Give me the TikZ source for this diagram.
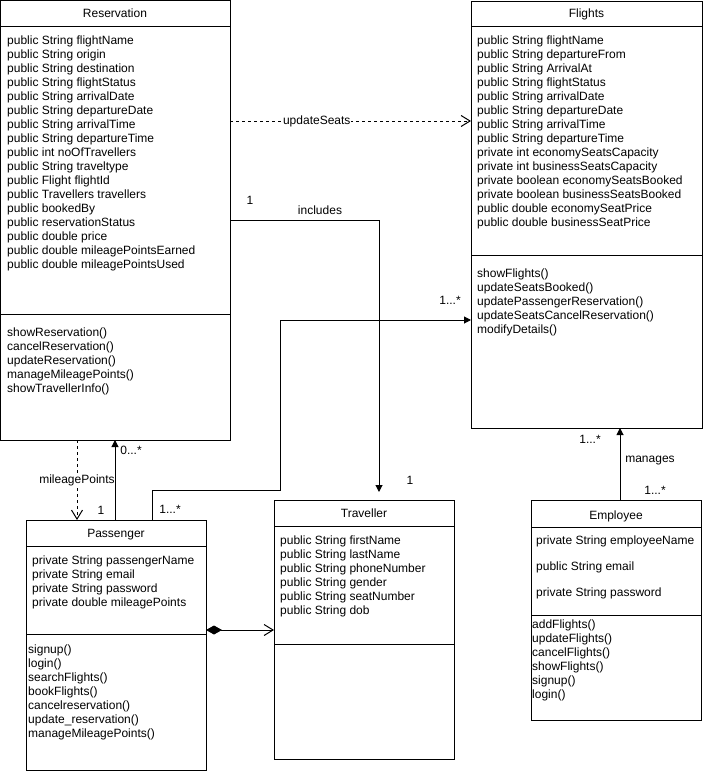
\documentclass[tikz,border=0pt]{standalone}
\usepackage{fontspec}
\setmainfont{Liberation Sans}
\usetikzlibrary{arrows.meta}
\begin{document}
\begin{tikzpicture}[x=1pt,y=-1pt,
  font=\fontsize{12}{14}\selectfont,
  classbox/.style={draw, line width=1pt, inner sep=0pt, outer sep=0pt, anchor=north west},
  member/.style={anchor=base west, inner sep=0pt},
  title/.style={anchor=base, inner sep=0pt},
  lbl/.style={inner sep=1pt},
  conn/.style={line width=1pt},
  dashline/.style={dash pattern=on 3pt off 3pt},
  solidtip/.style={-{Triangle[length=7pt,width=7pt]}},
  opentip/.style={-{Straight Barb[length=9pt,width=11pt]}},
  divider/.style={line width=1pt}]
\useasboundingbox (0,0) rectangle (711,771);

% ---------- Reservation ----------
\node[classbox, minimum width=229.5pt, minimum height=439.5pt] (res) at (0.5,0.5) {};
\draw[divider] (0.5,26) -- (230,26) (0.5,314) -- (230,314);
\node[title] (res-t) at (115,17.5) {Reservation};
\foreach \t [count=\i from 0] in {public String flightName, public String origin,
  public String destination, public String flightStatus, public String arrivalDate,
  public String departureDate, public String arrivalTime, public String departureTime,
  public int noOfTravellers, public String traveltype, public Flight flightId,
  public Travellers travellers, public bookedBy, public reservationStatus,
  public double price, public double mileagePointsEarned, public double mileagePointsUsed}
  \node[member] (res-a\i) at (7,44.5+14*\i) {\t};
\foreach \t [count=\i from 0] in {showReservation(), cancelReservation(),
  updateReservation(), manageMileagePoints(), showTravellerInfo()}
  \node[member] (res-m\i) at (7,336.5+14*\i) {\t};

% ---------- Flights ----------
\node[classbox, minimum width=231pt, minimum height=427pt] (fl) at (471,1) {};
\draw[divider] (471,26) -- (702,26) (471,255) -- (702,255);
\node[title] (fl-t) at (586.5,17.5) {Flights};
\foreach \t [count=\i from 0] in {public String flightName, public String departureFrom,
  public String ArrivalAt, public String flightStatus, public String arrivalDate,
  public String departureDate, public String arrivalTime, public String departureTime,
  private int economySeatsCapacity, private int businessSeatsCapacity,
  private boolean economySeatsBooked, private boolean businessSeatsBooked,
  public double economySeatPrice, public double businessSeatPrice}
  \node[member] (fl-a\i) at (477,44.5+14*\i) {\t};
\foreach \t [count=\i from 0] in {showFlights(), updateSeatsBooked(),
  updatePassengerReservation(), updateSeatsCancelReservation(), modifyDetails()}
  \node[member] (fl-m\i) at (477,277.5+14*\i) {\t};

% ---------- Passenger ----------
\node[classbox, minimum width=180pt, minimum height=250pt] (pas) at (26,520) {};
\draw[divider] (26,546) -- (206,546) (26,634) -- (206,634);
\node[title] (pas-t) at (116,537.5) {Passenger};
\foreach \t [count=\i from 0] in {private String passengerName, private String email,
  private String password, private double mileagePoints}
  \node[member] (pas-a\i) at (32,564.5+14*\i) {\t};
\foreach \t [count=\i from 0] in {signup(), login(), searchFlights(), bookFlights(),
  cancelreservation(), update\_reservation(), manageMileagePoints()}
  \node[member] (pas-m\i) at (28,653.5+14*\i) {\t};

% ---------- Traveller ----------
\node[classbox, minimum width=180pt, minimum height=259pt] (trav) at (274,500) {};
\draw[divider] (274,526) -- (454,526) (274,644) -- (454,644);
\node[title] (trav-t) at (364,517.5) {Traveller};
\foreach \t [count=\i from 0] in {public String firstName, public String lastName,
  public String phoneNumber, public String gender, public String seatNumber,
  public String dob}
  \node[member] (trav-a\i) at (280,544.5+14*\i) {\t};

% ---------- Employee ----------
\node[classbox, minimum width=170pt, minimum height=220pt] (emp) at (531,500) {};
\draw[divider] (531,527) -- (701,527) (531,615) -- (701,615);
\node[title] (emp-t) at (616,519.5) {Employee};
\node[member] (emp-a0) at (536,544.5) {private String employeeName};
\node[member] (emp-a1) at (536,570.5) {public String email};
\node[member] (emp-a2) at (536,596.5) {private String password};
\foreach \t [count=\i from 0] in {addFlights(), updateFlights(), cancelFlights(),
  showFlights(), signup(), login()}
  \node[member] (emp-m\i) at (532,628.5+14*\i) {\t};

% ---------- Relations ----------
% Reservation uses Flights to update seats
\draw[conn, dashline, opentip] (res.east |- 0,121) -- (fl.west |- 0,121)
  node[pos=0.36, fill=white, lbl] (lbl-us) {updateSeats};

% Reservation includes Travellers
\coordinate (incEnd) at (379,492);
\draw[conn, solidtip] (res.east |- 0,220) -| (incEnd);
\node[lbl] (lbl-inc1) at (250,200) {1};
\node[lbl] (lbl-inc) at (320,210) {includes};
\node[lbl] (lbl-inc2) at (410,480) {1};

% Passenger to Flights
\draw[conn, solidtip] (pas.north -| 152,0) |- (280,490) |- (fl.west |- 0,320);
\node[lbl] (lbl-pf1) at (170,509) {1...*};
\node[lbl] (lbl-pf2) at (450,300) {1...*};

% Passenger and Reservation
\draw[conn, dashline, opentip] (res.south -| 77,0) -- (pas.north -| 77,0)
  node[pos=0.5, fill=white, lbl] (lbl-mp) {mileagePoints};
\draw[conn, solidtip] (pas.north -| 115,0) -- (res.south -| 115,0);
\node[lbl] (lbl-pr1) at (101,510) {1};
\node[lbl] (lbl-pr2) at (131,450) {0...*};

% Passenger composed with Traveller
\draw[conn, {Diamond[length=16pt,width=9pt]}-{Straight Barb[length=9pt,width=11pt]}]
  (pas.east |- 0,630) -- (trav.west |- 0,630);

% Employee manages Flights
\draw[conn, solidtip] (emp.north -| 620,0) -- (fl.south -| 620,0);
\node[lbl] (lbl-em1) at (590,439) {1...*};
\node[lbl] (lbl-em) at (650,461) {manages};
\node[lbl] (lbl-em2) at (655,490) {1...*};
\end{tikzpicture}
\end{document}
